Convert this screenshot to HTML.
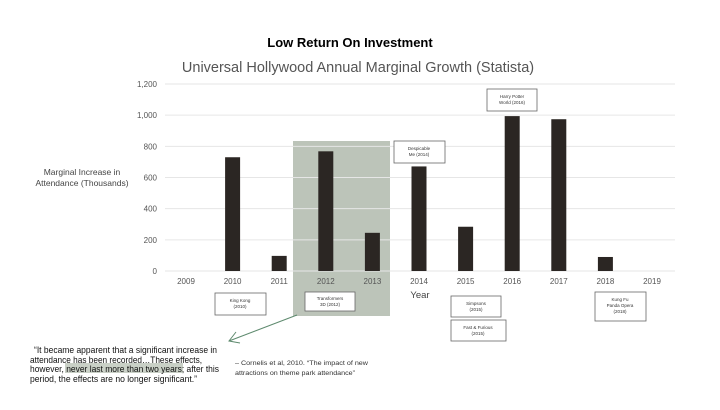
<!DOCTYPE html>
<html><head><meta charset="utf-8"><style>
body{margin:0;background:#fff;font-family:"Liberation Sans",sans-serif;}
svg text{font-family:"Liberation Sans",sans-serif;}
</style></head><body>
<svg width="720" height="405" viewBox="0 0 720 405">
<text x="350" y="47" text-anchor="middle" font-size="13" font-weight="bold" fill="#000">Low Return On Investment</text>
<text x="358" y="72" text-anchor="middle" font-size="14.5" fill="#555">Universal Hollywood Annual Marginal Growth (Statista)</text>
<rect x="293" y="141" width="97" height="175" fill="#bcc4b9"/>
<g id="grid"></g>
<g id="bars"></g>
<g id="xt"></g>
<text x="82" y="175" text-anchor="middle" font-size="8.5" fill="#444"><tspan x="82">Marginal Increase in</tspan><tspan x="82" dy="11">Attendance (Thousands)</tspan></text>
<text x="420" y="298" text-anchor="middle" font-size="9.5" fill="#444">Year</text>
<g font-size="4.5" fill="#333" text-anchor="middle" stroke-width="0.8">
<g><rect x="215" y="293" width="51" height="22" fill="#fff" stroke="#666"/><text x="240" y="302">King Kong</text><text x="240" y="308">(2010)</text></g>
<g><rect x="305" y="292" width="50" height="19" fill="#fff" stroke="#666"/><text x="330" y="300">Transformers</text><text x="330" y="306">3D (2012)</text></g>
<g><rect x="394" y="141" width="51" height="22" fill="#fff" stroke="#666"/><text x="419" y="150">Despicable</text><text x="419" y="156">Me (2014)</text></g>
<g><rect x="487" y="89" width="50" height="22" fill="#fff" stroke="#666"/><text x="512" y="98">Harry Potter</text><text x="512" y="104">World (2016)</text></g>
<g><rect x="451" y="296" width="50" height="21" fill="#fff" stroke="#666"/><text x="476" y="305">Simpsons</text><text x="476" y="311">(2015)</text></g>
<g><rect x="451" y="320" width="55" height="21" fill="#fff" stroke="#666"/><text x="478" y="329">Fast &amp; Furious</text><text x="478" y="335">(2015)</text></g>
<g><rect x="595" y="292" width="51" height="29" fill="#fff" stroke="#666"/><text x="620" y="301">Kung Fu</text><text x="620" y="307">Panda Opera</text><text x="620" y="313">(2018)</text></g>
</g>
<line x1="297" y1="315" x2="229" y2="341" stroke="#5e8a6e" stroke-width="1"/>
<polyline points="236,332 229,341 240,343" fill="none" stroke="#5e8a6e" stroke-width="1"/>
<rect x="65" y="363" width="118" height="10" fill="#c9d0c6"/>
<g font-size="9.2" fill="#111">
<text x="34" y="353" textLength="183" lengthAdjust="spacingAndGlyphs">“It became apparent that a significant increase in</text>
<text x="30" y="363" textLength="172" lengthAdjust="spacingAndGlyphs">attendance has been recorded…These effects,</text>
<text x="30" y="372" textLength="189" lengthAdjust="spacingAndGlyphs">however, never last more than two years; after this</text>
<text x="30" y="382" textLength="167" lengthAdjust="spacingAndGlyphs">period, the effects are no longer significant.”</text>
</g>
<g font-size="6.5" fill="#333">
<text x="235" y="365" textLength="133" lengthAdjust="spacingAndGlyphs">– Cornelis et al, 2010. “The impact of new</text>
<text x="235" y="375" textLength="120" lengthAdjust="spacingAndGlyphs">attractions on theme park attendance”</text>
</g>
</svg>
<script>
const years=['2009','2010','2011','2012','2013','2014','2015','2016','2017','2018','2019'];
const values=[0,730,97,768,245,671,284,994,974,90,0];
const yTicks=[0,200,400,600,800,1000,1200];
const yTickLabels=['0','200','400','600','800','1,000','1,200'];
const NS='http://www.w3.org/2000/svg';
const y=v=>271-v*(187/1200);
const x=i=>186+i*46.6;
const grid=document.getElementById('grid'),bars=document.getElementById('bars'),xt=document.getElementById('xt');
function mk(t,a,p){const e=document.createElementNS(NS,t);for(const k in a)e.setAttribute(k,a[k]);p.appendChild(e);return e;}
yTicks.forEach((v,i)=>{
 const l=mk('line',{x1:165,x2:675,y1:y(v),y2:y(v),stroke:'#e6e6e6','stroke-width':1},grid);
 
 
 const t=mk('text',{x:157,y:y(v)+3,'text-anchor':'end','font-size':8,fill:'#555'},grid);
 t.textContent=yTickLabels[i];
 
 
});
years.forEach((yr,i)=>{
 if(values[i]>0){
  const r=mk('rect',{x:x(i)-7.5,y:y(values[i]),width:15,height:271-y(values[i]),fill:'#2b2623'},bars);
  
  
 }
 const t=mk('text',{x:x(i),y:284,'text-anchor':'middle','font-size':8,fill:'#555'},xt);
 t.textContent=yr;
 
 
});
</script>
</body></html>
